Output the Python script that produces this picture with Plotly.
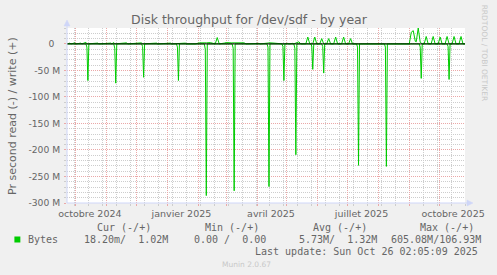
import plotly.graph_objects as go
from datetime import datetime, timedelta

# ---------------- data (values in MB/s, read shown negative) ----------------
start = datetime(2024, 9, 22)
range_days = 400

read_days = [0,
             19, 20, 21, 22,
             47, 48, 49, 50,
             75, 76, 77, 78,
             110, 111, 112, 113,
             138, 139, 140, 141,
             166, 167, 168, 169,
             201, 202, 203, 204,
             216, 217, 218, 219,
             228, 229, 230, 231,
             245, 246, 247, 248,
             256, 257, 258, 259,
             291, 292, 293, 294,
             319, 320, 321, 322,
             354, 355, 356, 357,
             382, 383, 384, 385,
             400]
read_vals = [0,
             0, -6, -69, 0,
             0, -8, -74, 0,
             0, -5, -63, 0,
             0, -6, -69, 0,
             0, -10, -286, 0,
             0, -8, -277, 0,
             0, -6, -269, 0,
             0, -5, -69, 0,
             0, -8, -209, 0,
             0, -4, -48, 0,
             0, -5, -55, 0,
             0, -6, -229, 0,
             0, -6, -231, 0,
             0, -6, -65, 0,
             0, -5, -67, 0,
             0]

write_days = [0, 3, 4, 8, 9, 14, 15, 19, 20, 25, 26, 31, 32, 38, 39, 44, 45, 47, 48, 53, 54,
              60, 61, 66, 67, 75, 76, 82, 83, 90, 91, 97, 98, 104, 105, 112, 113, 119, 120,
              128, 129, 133, 136, 140, 144, 146, 149, 151, 153, 158, 160, 165, 170, 175, 178,
              180, 186, 187, 193, 194, 201, 204, 208, 212, 216, 217, 222, 223, 227, 228, 233,
              235, 240, 242, 244, 247, 249, 251, 254, 256, 258, 261, 263, 265, 268, 270, 272,
              276, 278, 280, 283, 285, 287, 334, 335, 336, 344, 346, 348, 350, 351, 353, 355,
              357, 359, 361, 363, 366, 368, 370, 373, 375, 377, 380, 382, 384, 387, 389, 391,
              394, 396, 398, 400]
write_vals = [0, 1.5, 0, 2, 0, 1.5, 0, 3, 0, 1, 0, 1.5, 0, 1, 0, 1.5, 0, 2.5, 0, 1, 0,
              2, 0, 1, 0, 2, 0, 1, 0, 1.5, 0, 1, 0, 1.5, 0, 1, 0, 1.5, 0,
              1, 0, 2, 1.5, 2, 2.5, 1.5, 0, 12, 0, 1.5, 2.5, 2, 2, 2.5, 2,
              0, 1, 0, 1, 0, 1.5, 2, 1.5, 1, 1.5, 0, 1, 0, 1, 0, 4,
              0, 0, 13, 0, 0, 13, 0, 0, 10, 0, 0, 10, 0, 0, 13, 0,
              0, 13, 0, 0, 10, 0, 0, 1, 0, 0, 22, 25, 5, 4, 30, 3,
              0, 0, 14, 0, 0, 14, 0, 0, 13, 0, 0, 14, 0, 0, 14, 0,
              0, 14, 0, 0]

y_tick_vals = [0, -50, -100, -150, -200, -250, -300]
y_tick_text = ["0\u00a0\u00a0", "-50 M", "-100 M", "-150 M", "-200 M", "-250 M", "-300 M"]
x_tick_vals = ["2024-10-15", "2025-01-15", "2025-04-15", "2025-07-15", "2025-10-15"]
x_tick_text = ["octobre 2024", "janvier 2025", "avril 2025", "juillet 2025", "octobre 2025"]

title_text = "Disk throughput for /dev/sdf - by year"
ylabel_text = "Pr second read (-) / write (+)"
legend_headers = ["Cur (-/+)", "Min (-/+)", "Avg (-/+)", "Max (-/+)"]
legend_series = "Bytes"
legend_values = ["18.20m/  1.02M", "0.00 /  0.00", "5.73M/  1.32M", "605.08M/106.93M"]
last_update = "Last update: Sun Oct 26 02:05:09 2025"
munin_ver = "Munin 2.0.67"
watermark = "RRDTOOL / TOBI OETIKER"

# ---------------- layout geometry ----------------
W, H = 497, 275
L, R, T, B = 67, 468, 28, 203
PW, PH = R - L, B - T


def fx(px):
    return (px - L) / PW


def fy(py):
    return (B - py) / PH


def dt(n):
    return start + timedelta(days=n)


GREEN = "#00cc00"
FONT = "#666666"
AXIS = "#CFD6F8"
MAJ = "#EBA8A8"
MIN = "#CDCDCD"
DASH = "1px,1px"

fig = go.Figure()
fig.add_trace(go.Scatter(x=[dt(n) for n in read_days], y=[v * 1e6 for v in read_vals],
                         mode="lines", line=dict(color=GREEN, width=1), hoverinfo="skip"))
fig.add_trace(go.Scatter(x=[dt(n) for n in write_days], y=[v * 1e6 for v in write_vals],
                         mode="lines", line=dict(color=GREEN, width=1), hoverinfo="skip"))
# invisible trace to activate the label axis
fig.add_trace(go.Scatter(x=[dt(0)], y=[0], xaxis="x2", mode="markers",
                         marker=dict(opacity=0), hoverinfo="skip"))

xr = [dt(0), dt(range_days)]

fig.update_layout(
    width=W, height=H,
    margin=dict(l=L, r=W - R, t=T, b=H - B, pad=0),
    paper_bgcolor="#F0F0F0", plot_bgcolor="#FFFFFF",
    showlegend=False,
    font=dict(family="DejaVu Sans", color=FONT, size=9.5),
    title=dict(text=title_text, x=249 / W, y=1 - 19.5 / H, xref="container", yref="container",
               xanchor="center", yanchor="middle",
               font=dict(family="DejaVu Sans", size=12.5, color=FONT)),
    xaxis=dict(range=xr, type="date", showgrid=True, gridcolor=MAJ, griddash=DASH, gridwidth=1,
               tickmode="linear", tick0="2024-10-01", dtick="M1", showticklabels=False,
               ticks="outside", ticklen=2, tickcolor=MAJ, zeroline=False, showline=False,
               minor=dict(dtick=14 * 86400000, tick0="2024-09-30", showgrid=True, gridcolor=MIN,
                          griddash=DASH, ticks="outside", ticklen=2, tickcolor=MIN)),
    xaxis2=dict(range=xr, type="date", overlaying="x", anchor="y", side="bottom",
                tickmode="array", tickvals=x_tick_vals, ticktext=x_tick_text,
                showgrid=False, ticks="", zeroline=False, showline=False,
                ticklabelstandoff=3, tickfont=dict(size=9.5, color=FONT)),
    yaxis=dict(range=[-300e6, 30e6], showgrid=True, gridcolor=MAJ, griddash=DASH,
               tickmode="array", tickvals=[v * 1e6 for v in y_tick_vals], ticktext=y_tick_text,
               ticks="outside", ticklen=2, tickcolor=MAJ, ticklabelstandoff=2,
               tickfont=dict(size=9.2, color=FONT), zeroline=False, showline=False,
               minor=dict(tickmode="linear", tick0=0, dtick=10e6, showgrid=True, gridcolor=MIN,
                          griddash=DASH, ticks="outside", ticklen=2, tickcolor=MIN)),
)

shapes = []
# zero line
shapes.append(dict(type="line", xref="paper", yref="y", x0=0, x1=1, y0=0, y1=0,
                   line=dict(color="#000000", width=1), layer="above"))
# axes with arrows
shapes.append(dict(type="line", xref="paper", yref="paper", x0=0, x1=0, y0=0, y1=fy(25),
                   line=dict(color=AXIS, width=1), layer="above"))
shapes.append(dict(type="path", xref="paper", yref="paper",
                   path=f"M {fx(67)},{fy(20)} L {fx(64)},{fy(26)} L {fx(70)},{fy(26)} Z",
                   fillcolor=AXIS, line=dict(color=AXIS, width=0.5), layer="above"))
shapes.append(dict(type="line", xref="paper", yref="paper", x0=0, x1=fx(470), y0=0, y1=0,
                   line=dict(color=AXIS, width=1), layer="above"))
shapes.append(dict(type="path", xref="paper", yref="paper",
                   path=f"M {fx(476)},{fy(203)} L {fx(470)},{fy(200)} L {fx(470)},{fy(206)} Z",
                   fillcolor=AXIS, line=dict(color=AXIS, width=0.5), layer="above"))
# legend colour box
shapes.append(dict(type="rect", xref="paper", yref="paper", x0=fx(14), x1=fx(20),
                   y0=fy(242.5), y1=fy(236.5), fillcolor=GREEN, line=dict(width=0)))
fig.update_layout(shapes=shapes)

MONO = "DejaVu Sans Mono"


def nb(s):
    return s.replace(" ", "\u00a0")


ann = []
# y-axis title
ann.append(dict(text=ylabel_text, x=fx(12), y=fy(115.5), xref="paper", yref="paper",
                showarrow=False, textangle=-90, xanchor="center", yanchor="middle",
                font=dict(family="DejaVu Sans", size=11, color=FONT)))
# watermark
ann.append(dict(text=watermark, x=fx(488.5), y=fy(53), xref="paper", yref="paper",
                showarrow=False, textangle=90, xanchor="center", yanchor="middle",
                font=dict(family="DejaVu Sans", size=7.5, color="#C8C8C8")))
# legend headers
for cx, txt in zip([124.7, 233.3, 341.7, 449.7], legend_headers):
    ann.append(dict(text=nb(txt), x=fx(cx), y=fy(227.3), xref="paper", yref="paper",
                    showarrow=False, xanchor="center", yanchor="middle",
                    font=dict(family=MONO, size=10, color=FONT)))
ann.append(dict(text=legend_series, x=fx(26.7), y=fy(239.7), xref="paper", yref="paper",
                showarrow=False, xanchor="left", yanchor="middle",
                font=dict(family=MONO, size=10, color=FONT)))
for lx, txt in zip([83.3, 194.3, 299.3, 392.3], legend_values):
    ann.append(dict(text=nb(txt), x=fx(lx), y=fy(239.7), xref="paper", yref="paper",
                    showarrow=False, xanchor="left", yanchor="middle",
                    font=dict(family=MONO, size=10, color=FONT)))
ann.append(dict(text=nb(last_update), x=fx(482.5), y=fy(251.7), xref="paper", yref="paper",
                showarrow=False, xanchor="right", yanchor="middle",
                font=dict(family=MONO, size=10, color=FONT)))
ann.append(dict(text=munin_ver, x=fx(247.8), y=fy(264), xref="paper", yref="paper",
                showarrow=False, xanchor="center", yanchor="middle",
                font=dict(family="DejaVu Sans", size=7.5, color="#C8C8C8")))
for a in ann:
    a["borderpad"] = 0
fig.update_layout(annotations=ann)

fig.write_html("out.html")
